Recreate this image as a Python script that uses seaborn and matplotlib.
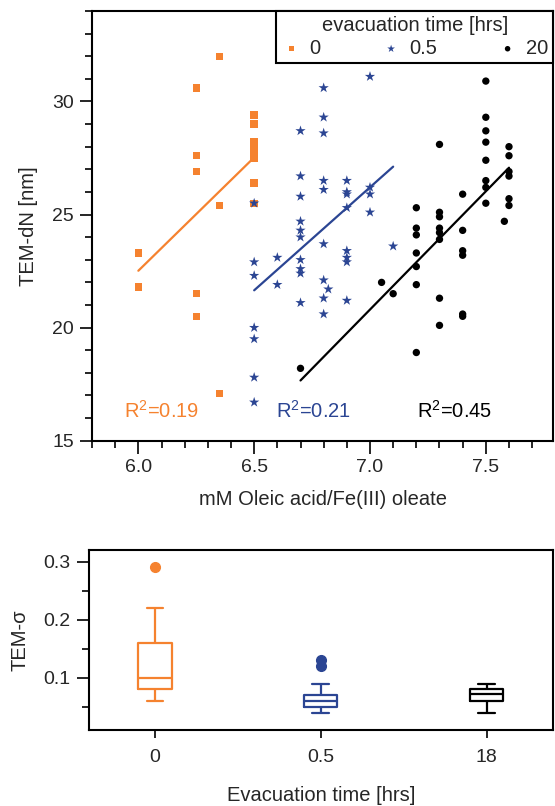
import matplotlib
matplotlib.use("Agg")
import matplotlib.pyplot as plt
from matplotlib.ticker import MultipleLocator, FormatStrFormatter
import numpy as np
import pandas as pd
import seaborn as sns

# scatter data: oleic acid concentration vs TEM diameter, per evacuation time
orange_x = [6.0, 6.0, 6.25, 6.25, 6.25, 6.25, 6.25, 6.35, 6.35, 6.35,
            6.5, 6.5, 6.5, 6.5, 6.5, 6.5, 6.5, 6.5]
orange_y = [23.3, 21.8, 30.6, 27.6, 26.9, 21.5, 20.5, 32.0, 25.4, 17.1,
            29.4, 29.0, 28.2, 28.0, 27.7, 27.5, 26.4, 25.5]

blue_x = [6.5, 6.5, 6.5, 6.5, 6.5, 6.5, 6.5,
          6.6, 6.6,
          6.7, 6.7, 6.7, 6.7, 6.7, 6.7, 6.7, 6.7, 6.7, 6.7,
          6.8, 6.8, 6.8, 6.8, 6.8, 6.8, 6.8, 6.8, 6.8, 6.82,
          6.9, 6.9, 6.9, 6.9, 6.9, 6.9, 6.9, 6.9,
          7.0, 7.0, 7.0, 7.0, 7.1]
blue_y = [25.5, 22.9, 22.3, 20.0, 19.5, 17.8, 16.7,
          23.1, 21.9,
          28.7, 26.7, 25.8, 24.7, 24.3, 24.0, 23.0, 22.6, 22.4, 21.1,
          30.6, 29.3, 28.6, 26.5, 26.1, 23.7, 22.1, 21.3, 20.6, 21.7,
          26.5, 26.0, 25.9, 25.3, 23.4, 23.1, 22.9, 21.2,
          31.1, 26.2, 25.9, 25.1, 23.6]

black_x = [6.7, 7.05, 7.1,
           7.2, 7.2, 7.2, 7.2, 7.2, 7.2, 7.2,
           7.3, 7.3, 7.3, 7.3, 7.3, 7.3, 7.3, 7.3,
           7.4, 7.4, 7.4, 7.4, 7.4, 7.4,
           7.5, 7.5, 7.5, 7.5, 7.5, 7.5, 7.5, 7.5,
           7.58, 7.6, 7.6, 7.6, 7.6, 7.6, 7.6]
black_y = [18.2, 22.0, 21.5,
           25.3, 24.4, 24.1, 23.3, 22.7, 21.9, 18.9,
           28.1, 25.1, 24.9, 24.4, 24.2, 23.9, 21.3, 20.1,
           25.9, 24.3, 23.4, 23.2, 20.6, 20.5,
           30.9, 29.3, 28.7, 28.2, 27.4, 26.5, 26.2, 25.5,
           24.7, 28.0, 27.6, 26.9, 26.7, 25.7, 25.4]

groups = ["0", "0.5", "20"]
r2_labels = ["0.19", "0.21", "0.45"]
r2_x = [6.1, 6.757, 7.367]

# box plot data: TEM sigma per evacuation time
box_groups = ["0", "0.5", "18"]
sigma_0 = [0.06, 0.08, 0.08, 0.10, 0.10, 0.16, 0.16, 0.22, 0.29]
sigma_05 = [0.04, 0.05, 0.05, 0.05, 0.06, 0.06, 0.06, 0.07, 0.07, 0.07, 0.09, 0.12, 0.13]
sigma_18 = [0.04, 0.06, 0.06, 0.07, 0.072, 0.072, 0.08, 0.08, 0.09]

colors = ["#f5822f", "#2b4593", "#000000"]
markers = ["s", "*", "o"]
msizes = [28, 60, 28]

sns.set_style("ticks")
plt.rcParams["font.family"] = ["Liberation Sans", "DejaVu Sans"]
plt.rcParams["mathtext.fontset"] = "custom"
plt.rcParams["mathtext.rm"] = "Liberation Sans"
plt.rcParams["axes.linewidth"] = 1.5

fig = plt.figure(figsize=(5.55, 8.06), dpi=100)
ax1 = fig.add_axes([0.1658, 0.4532, 0.8306, 0.5332])
ax2 = fig.add_axes([0.1596, 0.0943, 0.8368, 0.2233])

xs = [orange_x, blue_x, black_x]
ys = [orange_y, blue_y, black_y]
handles = []
for i in range(3):
    sc = ax1.scatter(xs[i], ys[i], marker=markers[i], s=msizes[i], color=colors[i],
                     edgecolors="none", label=groups[i], zorder=3)
    handles.append(sc)
    sns.regplot(x=np.array(xs[i]), y=np.array(ys[i]), ax=ax1, scatter=False, ci=None,
                truncate=True, color=colors[i], line_kws={"lw": 1.6})
    ax1.text(r2_x[i], 16.3, "R$^2$=" + r2_labels[i], color=colors[i], fontsize=14.5,
             ha="center", va="center")

ax1.set_xlim(5.8, 7.79)
ax1.set_ylim(15, 34)
ax1.xaxis.set_major_locator(MultipleLocator(0.5))
ax1.xaxis.set_minor_locator(MultipleLocator(0.1))
ax1.yaxis.set_major_locator(MultipleLocator(5))
ax1.yaxis.set_minor_locator(MultipleLocator(1))
ax1.xaxis.set_major_formatter(FormatStrFormatter("%.1f"))
ax1.set_xlabel("mM Oleic acid/Fe(III) oleate", fontsize=14.5, labelpad=10)
ax1.set_ylabel("TEM-dN [nm]", fontsize=14.5, labelpad=10)

leg = ax1.legend(handles=handles, title="evacuation time [hrs]", ncol=3,
                 loc="upper right", bbox_to_anchor=(1.0, 1.0), borderaxespad=0,
                 fontsize=14.5, title_fontsize=14.5, frameon=True, fancybox=False,
                 markerscale=0.75, handletextpad=0.4, columnspacing=3.0,
                 borderpad=0.25, labelspacing=0.2, handlelength=1.0)
leg.get_frame().set_edgecolor("black")
leg.get_frame().set_linewidth(1.5)
leg.get_frame().set_alpha(1)

# box plot
box_df = pd.DataFrame({
    "time": ["0"] * len(sigma_0) + ["0.5"] * len(sigma_05) + ["18"] * len(sigma_18),
    "sigma": sigma_0 + sigma_05 + sigma_18,
})
sns.boxplot(data=box_df, x="time", y="sigma", hue="time", order=box_groups,
            hue_order=box_groups, palette=colors, fill=False, width=0.2,
            linewidth=1.6, legend=False, saturation=1, ax=ax2,
            flierprops={"marker": "o", "markersize": 7})
for line in ax2.lines:
    if line.get_marker() == "o":
        line.set_markerfacecolor(line.get_markeredgecolor())

ax2.set_xlim(-0.4, 2.4)
ax2.set_ylim(0.01, 0.32)
ax2.yaxis.set_major_locator(MultipleLocator(0.1))
ax2.yaxis.set_minor_locator(MultipleLocator(0.05))
ax2.yaxis.set_major_formatter(FormatStrFormatter("%.1f"))
ax2.set_xlabel("Evacuation time [hrs]", fontsize=14.5, labelpad=14)
ax2.set_ylabel("TEM-σ", fontsize=14.5, labelpad=10)

for ax in (ax1, ax2):
    for sp in ax.spines.values():
        sp.set_visible(True)
        sp.set_linewidth(1.5)
        sp.set_color("black")
    ax.tick_params(which="major", direction="out", length=9, width=1.2,
                   labelsize=14, pad=4, color="black")
    ax.tick_params(which="minor", direction="out", length=5, width=1.2, color="black")
ax2.tick_params(axis="x", which="major", length=6, pad=8)

fig.savefig("out.png", dpi=100)
